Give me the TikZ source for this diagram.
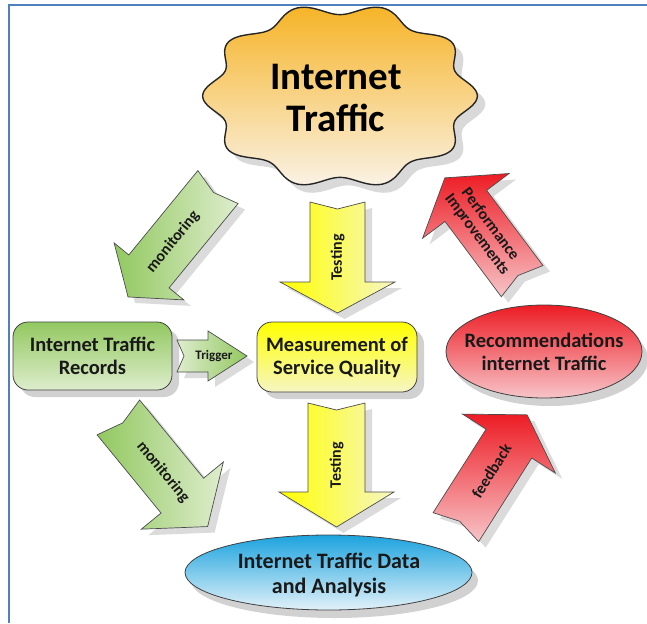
\documentclass[tikz,border=0pt]{standalone}
\usepackage{fontspec}
\setmainfont{Carlito}
\usetikzlibrary{shapes.geometric,shadows}

% notched block arrow: name, centre, direction, length, shaft half width, head half width, head length, fill
\newcommand{\notcharrow}[8]{%
  \fill[black, opacity=0.14, shift={#2}, xshift=7pt, yshift=-6pt, rotate=#3]
    (-#4/2,-#5) -- (#4/2-#7,-#5) -- (#4/2-#7,-#6) -- (#4/2,0) -- (#4/2-#7,#6) -- (#4/2-#7,#5) -- (-#4/2,#5) -- (-#4/2+7,0) -- cycle;
  \path[arrowline, #8, shift={#2}, rotate=#3]
    (-#4/2,-#5) -- (#4/2-#7,-#5) -- (#4/2-#7,-#6) -- (#4/2,0) -- (#4/2-#7,#6) -- (#4/2-#7,#5) -- (-#4/2,#5) -- (-#4/2+7,0) -- cycle;
  \coordinate (#1) at #2;}

\begin{document}
\begin{tikzpicture}[
  x=1pt, y=-1pt,
  box/.style={draw=black!75, line width=0.8pt, rounded corners=15pt, minimum width=159pt, minimum height=68pt, align=center, text=black!90, font=\bfseries\fontsize{20.5}{23}\selectfont, drop shadow={shadow xshift=7pt, shadow yshift=-7pt, opacity=0.18, fill=black}},
  oval/.style={ellipse, draw=black!75, line width=0.8pt, inner sep=0pt, drop shadow={shadow xshift=6pt, shadow yshift=-8pt, opacity=0.18, fill=black}},
  boxtext/.style={align=center, text=black!90, font=\bfseries\fontsize{20.5}{23}\selectfont},
  arrowline/.style={draw=black!70, line width=0.7pt},
  arrowtext/.style={align=center, text=black!90, font=\bfseries\fontsize{16}{16.5}\selectfont}
]

\definecolor{fblue}{RGB}{79,129,189}
\definecolor{corange}{RGB}{246,180,40}
\definecolor{ccream}{RGB}{250,242,228}
\definecolor{cgreen}{RGB}{146,200,96}
\definecolor{cgreenl}{RGB}{222,237,205}
\definecolor{cyellow}{RGB}{255,255,0}
\definecolor{cyellowl}{RGB}{246,246,196}
\definecolor{cred}{RGB}{237,28,36}
\definecolor{credl}{RGB}{247,196,200}
\definecolor{cblue}{RGB}{28,163,222}
\definecolor{cbluel}{RGB}{226,241,249}

\useasboundingbox (0,0) rectangle (647,623);

% frame
\draw[fblue, line width=2pt] (647,5) -- (9,5) -- (9,623);

% cloud at the top
\draw[black!85, line width=1.4pt, top color=corange, bottom color=ccream, drop shadow={shadow xshift=8pt, shadow yshift=-8pt, opacity=0.15, fill=black}]
  plot[smooth cycle, domain=0:357, samples=120, variable=\t]
  ({340+129*(1+0.065*cos(10*\t))*cos(\t)}, {96+87*(1+0.065*cos(10*\t))*sin(\t)});
\node[align=center, text=black, font=\bfseries\fontsize{39}{42}\selectfont] (traffic) at (336,98) {Internet\\Traffic};

% boxes in the middle row
\node[box, top color=cgreen, bottom color=cgreenl] (records) at (92.5,356) {Internet Traffic\\Records};
\node[box, top color=cyellow, bottom color=cyellowl, minimum width=160pt, minimum height=70pt] (quality) at (337,357) {Measurement of\\Service Quality};
\node[oval, top color=cred, bottom color=credl, minimum width=196pt, minimum height=93pt] (recom) at (544,351.5) {};
\node[boxtext] (recomtext) at (recom) {Recommendations\\internet Traffic};

% result at the bottom
\node[oval, top color=cblue, bottom color=cbluel, minimum width=287pt, minimum height=75pt] (data) at (328.5,572.5) {};
\node[boxtext, font=\bfseries\fontsize{22}{24.5}\selectfont] (datatext) at (329,575) {Internet Traffic Data\\and Analysis};

% block arrows
\notcharrow{monup}{(173,242)}{230.7}{142}{26}{45}{33}{left color=cgreen, right color=cgreenl}
\node[arrowtext, rotate=50.7] (monuptext) at (monup) {monitoring};

\notcharrow{testup}{(337.5,257.5)}{270}{111}{27.5}{57.5}{31}{left color=cyellow, right color=cyellowl}
\node[arrowtext, rotate=90] (testuptext) at (testup) {Testing};

\notcharrow{perf}{(483.5,229.5)}{126.8}{129}{26}{54}{35}{top color=cred, bottom color=credl}
\node[arrowtext, rotate=-53.2] (perftext) at (perf) {Performance\\Improvements};

\notcharrow{trig}{(212,356)}{0}{70}{16}{25}{39}{left color=cgreenl, right color=cgreen}
\node[arrowtext, font=\bfseries\fontsize{13}{14}\selectfont] (trigtext) at (214,356) {Trigger};

\notcharrow{mondown}{(163,472)}{-50.7}{141}{27.5}{53}{40}{left color=cgreen, right color=cgreenl}
\node[arrowtext, rotate=-50.7] (mondowntext) at (mondown) {monitoring};

\notcharrow{testdown}{(336.5,465)}{270}{124}{28.5}{57.5}{35}{left color=cyellow, right color=cyellowl}
\node[arrowtext, rotate=90] (testdowntext) at (testdown) {Testing};

\notcharrow{feed}{(491.5,471)}{57.6}{133}{27}{55}{34}{top color=cred, bottom color=credl}
\node[arrowtext, rotate=57.6] (feedtext) at (feed) {feedback};

\end{tikzpicture}
\end{document}
